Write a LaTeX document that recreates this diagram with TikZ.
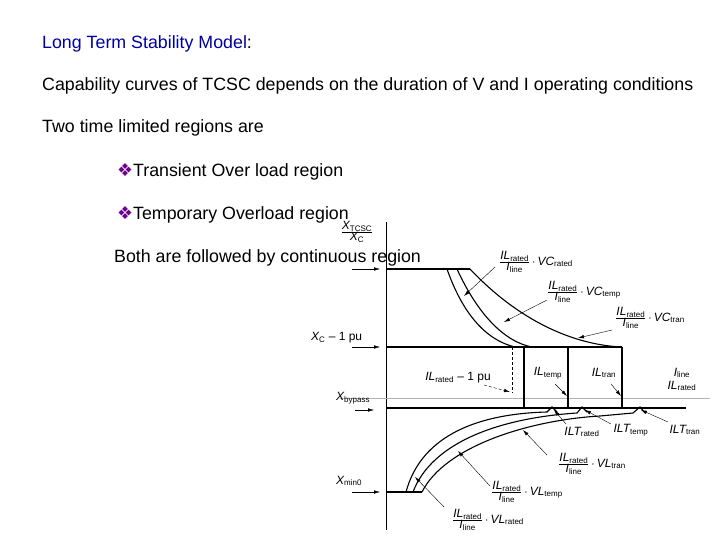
\documentclass[tikz,border=0pt]{standalone}
\usepackage{fontspec}
\setmainfont{Liberation Sans}
\newfontfamily\djfont{DejaVu Sans}
\usetikzlibrary{arrows.meta}
\definecolor{tblue}{RGB}{0,0,160}
\definecolor{tpurp}{RGB}{110,0,140}
\newcommand{\fr}[2]{$\frac{\mbox{#1}}{\mbox{#2}}$}
\newcommand{\sub}[1]{\textsubscript{\upshape #1}}
\begin{document}
\begin{tikzpicture}[x=1pt,y=-1pt,
  body/.style={anchor=west,font=\fontsize{17.8}{20}\selectfont,inner sep=0},
  lab/.style={font=\fontsize{12}{13}\selectfont\itshape,inner sep=0},
  ln/.style={line width=1.1pt},
  ptr/.style={-{Latex[length=6pt,width=3.5pt]},thin},
  dptr/.style={ptr,densely dashed}]
\useasboundingbox[fill=white] (0,0) rectangle (720,540);
\node[body,text=tblue] (t1) at (42,44) {Long Term Stability Model\textcolor{black}{:}};
\node[body] (t2) at (42,86) {Capability curves of TCSC depends on the duration of V and I operating conditions};
\node[body] (t3) at (42,128) {Two time limited regions are};
\node[body] (t4) at (117,172) {{\djfont\textcolor{tpurp}{❖}}Transient Over load region};
\node[body] (t5) at (117,215) {{\djfont\textcolor{tpurp}{❖}}Temporary Overload region};
% axes
\draw[thin] (386,222) -- (386,530);
\draw[gray!60,thin] (340,398) -- (710,398);
\draw[ln] (386,269) -- (470,269);
\draw[ln] (386,347) -- (622,347);
\draw[ln] (386,408) -- (686,408);
\draw[ln] (386,492) -- (422,492);
\draw[densely dashed] (512,347) -- (512,393);
\draw[ln] (524,347) -- (524,408);
\draw[ln] (568,347) -- (568,408);
\draw[ln] (622,347) -- (622,408);
% upper curves
\draw[ln] (447,269) .. controls (462,312) and (485,340) .. (515,347);
\draw[ln] (457,269) .. controls (478,315) and (505,342) .. (532,347);
\draw[ln] (470,269) .. controls (520,322) and (575,345) .. (622,347);
% lower curves
\draw[ln] (406,492) .. controls (420,440) and (470,414) .. (547,412) -- (552,407) -- (557,412);
\draw[ln] (413,492) .. controls (432,442) and (500,418) .. (577,413) -- (582,407) -- (587,412);
\draw[ln] (422,492) .. controls (445,446) and (530,420) .. (600,416) -- (633,413) -- (640,407) -- (645,413);
% axis labels
\node[lab] (xt) at (357,232) {\fr{X\sub{TCSC}}{X\sub{C}}};
\node[lab,anchor=west] (xc1) at (311,338) {X\sub{C} \upshape -- 1 pu};
\node[lab,anchor=west] (xb) at (336,398) {X\sub{bypass}};
\node[lab,anchor=west] (xm) at (336,481) {X\sub{min0}};
\coordinate (a1) at (352,269); \coordinate (a1e) at (380,269);
\coordinate (a2) at (352,347); \coordinate (a2e) at (380,347);
\coordinate (a3) at (355,410); \coordinate (a3e) at (374,410);
\coordinate (a4) at (352,492); \coordinate (a4e) at (380,492);
\draw[ptr] (a1) -- (a1e); \draw[ptr] (a2) -- (a2e);
\draw[ptr] (a3) -- (a3e); \draw[ptr] (a4) -- (a4e);
\node[body] (t6) at (114,258) {Both are followed by continuous region};
% curve labels
\node[lab] (l1) at (536,262) {\fr{IL\sub{rated}}{I\sub{line}}\,$\cdot$\,VC\sub{rated}};
\node[lab] (l2) at (584,292) {\fr{IL\sub{rated}}{I\sub{line}}\,$\cdot$\,VC\sub{temp}};
\node[lab] (l3) at (650,318) {\fr{IL\sub{rated}}{I\sub{line}}\,$\cdot$\,VC\sub{tran}};
\coordinate (p1) at (464,296); \coordinate (p2) at (504,322); \coordinate (p3) at (578,338);
\draw[ptr] (495,267) -- (p1);
\draw[ptr] (547,300) -- (p2);
\draw[ptr] (612,330) -- (p3);
\node[lab] (l4) at (458,378) {IL\sub{rated} \upshape -- 1 pu};
\node[lab] (l5) at (548,373) {IL\sub{temp}};
\node[lab] (l6) at (604,373) {IL\sub{tran}};
\node[lab] (l7) at (682,380) {\begin{tabular}{@{}c@{}}I\sub{line}\\IL\sub{rated}\end{tabular}};
\coordinate (p4) at (510,392); \coordinate (p5) at (567,396); \coordinate (p6) at (621,396);
\draw[dptr] (484,385) -- (p4);
\draw[ptr] (555,384) -- (p5);
\draw[ptr] (611,384) -- (p6);
\node[lab] (l8) at (582,432) {ILT\sub{rated}};
\node[lab] (l9) at (631,430) {ILT\sub{temp}};
\node[lab] (l10) at (685,430) {ILT\sub{tran}};
\coordinate (p7) at (554,410); \coordinate (p8) at (585,410); \coordinate (p9) at (641,410);
\draw[ptr] (566,424) -- (p7);
\draw[ptr] (611,424) -- (p8);
\draw[ptr] (668,422) -- (p9);
\node[lab] (l11) at (592,464) {\fr{IL\sub{rated}}{I\sub{line}}\,$\cdot$\,VL\sub{tran}};
\node[lab] (l12) at (527,492) {\fr{IL\sub{rated}}{I\sub{line}}\,$\cdot$\,VL\sub{temp}};
\node[lab] (l13) at (488,520) {\fr{IL\sub{rated}}{I\sub{line}}\,$\cdot$\,VL\sub{rated}};
\coordinate (p10) at (523,430); \coordinate (p11) at (458,451); \coordinate (p12) at (415,477);
\draw[ptr] (547,455) -- (p10);
\draw[ptr] (490,486) -- (p11);
\draw[ptr] (444,507) -- (p12);
\end{tikzpicture}
\end{document}
